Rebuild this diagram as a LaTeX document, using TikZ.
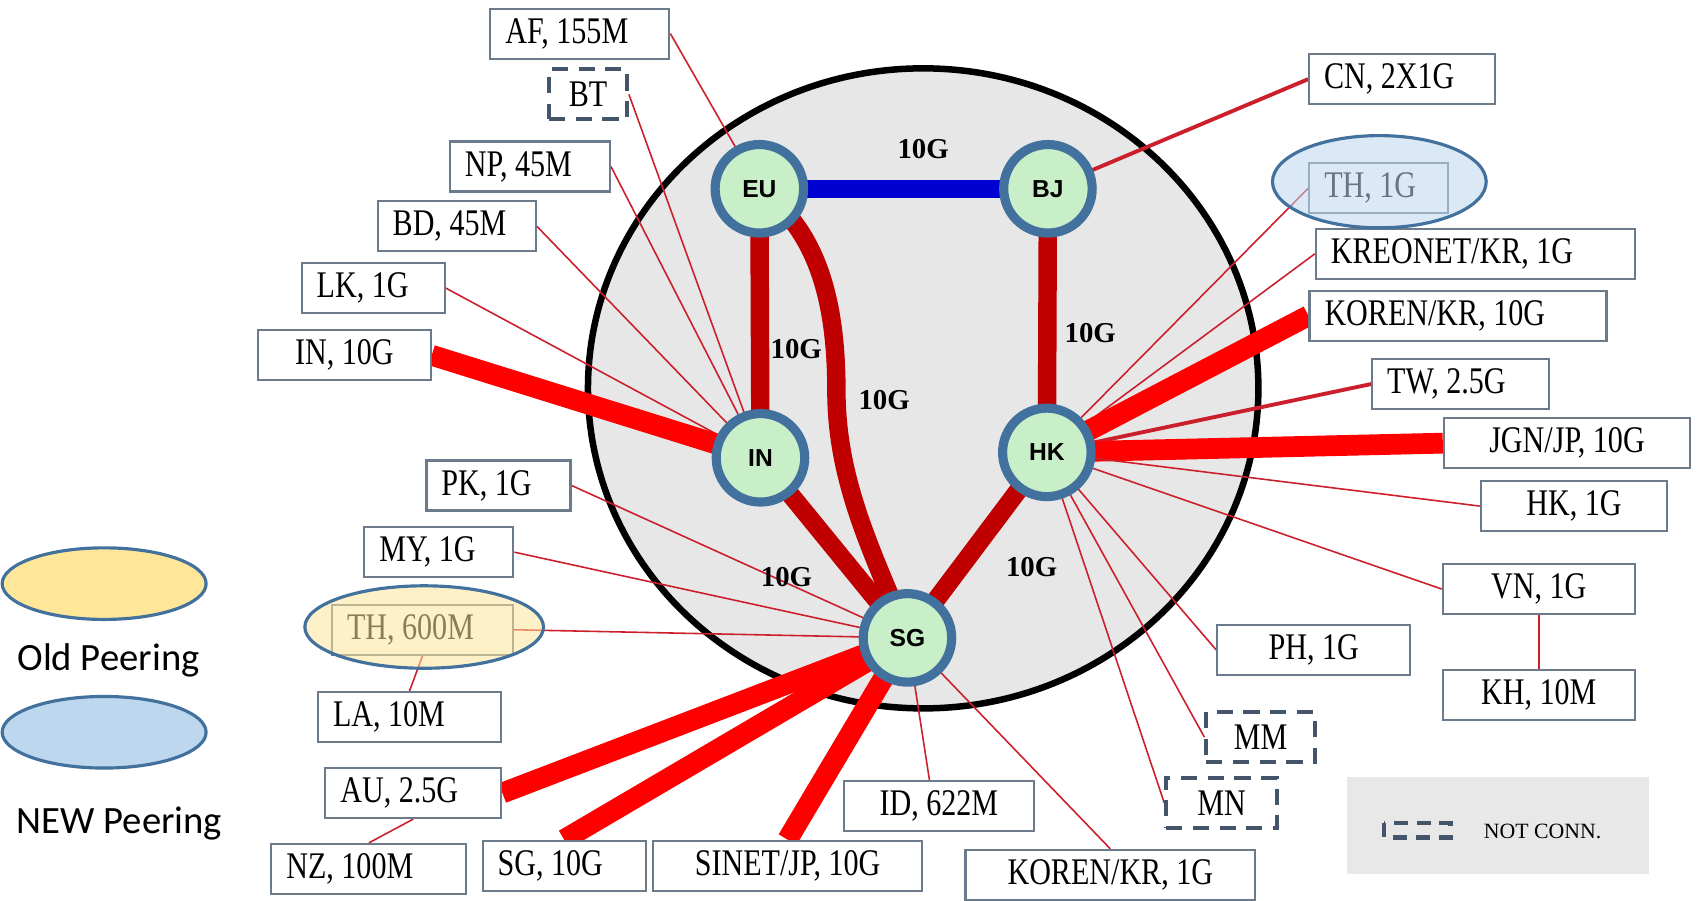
\documentclass[tikz,border=0pt]{standalone}
\usepackage{fontspec}
\setmainfont{Liberation Serif}
\newfontfamily\boxfont{Liberation Serif}[FakeStretch=0.8]
\newfontfamily\hubfont{Liberation Sans}
\newfontfamily\legendfont{Carlito}
\definecolor{bbred}{HTML}{C00000}
\definecolor{bbblue}{HTML}{0000D0}
\definecolor{peerred}{HTML}{FF0000}
\definecolor{thinred}{HTML}{CC1F2C}
\definecolor{hubring}{HTML}{41719C}
\definecolor{hubfill}{HTML}{C9EFC8}
\definecolor{diskgray}{HTML}{E7E7E7}
\definecolor{boxline}{HTML}{6B7B8C}
\definecolor{dashline}{HTML}{44546A}
\definecolor{oldpeer}{HTML}{FFE699}
\definecolor{newpeer}{HTML}{BDD7EE}
\definecolor{legendgray}{HTML}{E8E8E8}
\pgfdeclarelayer{disk}
\pgfdeclarelayer{links}
\pgfdeclarelayer{over}
\pgfsetlayers{disk,links,main,over}

\begin{document}
\begin{tikzpicture}[x=0.01085cm, y=-0.01085cm,
        hub/.style={circle, draw=hubring, line width=2.6pt, fill=hubfill, minimum size=0.885cm, inner sep=0pt, font=\hubfont\bfseries\fontsize{7}{8}\selectfont},
        box/.style={draw=boxline, line width=0.6pt, fill=white, minimum height=0.5cm, inner xsep=0.15cm, inner ysep=0pt, font=\boxfont\fontsize{10.7}{12}\selectfont},
        lbox/.style={box, text width=#1, align=flush left},
        cbox/.style={box, minimum width=#1},
        nobox/.style={box, draw=dashline, line width=1.1pt, dash pattern=on 4.6pt off 3pt, minimum width=#1},
        rate/.style={font=\bfseries\fontsize{8.2}{9}\selectfont},
        bone/.style={line width=5.25pt, draw=bbred},
        fatlink/.style={line width=5.9pt, draw=peerred},
        slimlink/.style={line width=0.45pt, draw=thinred},
        midlink/.style={line width=1.1pt, draw=thinred},
        peering/.style={draw=hubring, line width=0.9pt}
    ]
      \useasboundingbox (0,0) rectangle (1568,830);

      % core ring and legend panel
      \begin{pgfonlayer}{disk}
        \draw[line width=1.85pt, fill=diskgray] (851,358) ellipse [x radius=309, y radius=295];
        \fill[legendgray] (1242,716) rectangle (1520,806);
      \end{pgfonlayer}

      % hubs
      \node[hub] (EU) at (700,174) {EU};
      \node[hub] (BJ) at (966,174) {BJ};
      \node[hub] (IN) at (701,422) {IN};
      \node[hub] (HK) at (965,417) {HK};
      \node[hub] (SG) at (836.5,588) {SG};

      % backbone rates
      \node[rate] (r1) at (851,137) {10G};
      \node[rate] (r2) at (734,322) {10G};
      \node[rate] (r3) at (815,369) {10G};
      \node[rate] (r4) at (1005,307) {10G};
      \node[rate] (r5) at (725,532) {10G};
      \node[rate] (r6) at (951,523) {10G};

      % peers, left side
      \node[lbox=1.49cm] (af) at (534.5,31) {AF, 155M};
      \node[nobox=0.78cm] (bt) at (542,87) {BT};
      \node[lbox=1.30cm] (np) at (488.5,153.5) {NP, 45M};
      \node[lbox=1.28cm] (bd) at (421,208.5) {BD, 45M};
      \node[lbox=1.13cm] (lk) at (344,265.5) {LK, 1G};
      \node[cbox=1.725cm] (in10) at (317.5,327.5) {IN, 10G};
      \node[lbox=1.14cm] (pk) at (459.5,447.5) {PK, 1G};
      \node[lbox=1.19cm] (my) at (404.5,509) {MY, 1G};
      \node[lbox=1.51cm] (th600) at (389.5,580.5) {TH, 600M};
      \node[lbox=1.53cm] (la) at (377.5,661) {LA, 10M};
      \node[lbox=1.46cm] (au) at (381,731) {AU, 2.5G};
      \node[lbox=1.65cm] (nz) at (340,801) {NZ, 100M};

      % peers, bottom
      \node[lbox=1.33cm] (sg10) at (520,798) {SG, 10G};
      \node[cbox=2.691cm] (sinet) at (726,798) {SINET/JP, 10G};
      \node[cbox=1.899cm] (id) at (865.5,743) {ID, 622M};
      \node[cbox=2.897cm] (kr1) at (1023.5,806.5) {KOREN/KR, 1G};

      % peers, right side
      \node[lbox=1.56cm] (cn) at (1292.5,73) {CN, 2X1G};
      \node[lbox=1.09cm] (th1) at (1271,173.5) {TH, 1G};
      \node[lbox=2.89cm] (kreonet) at (1360,234) {KREONET/KR, 1G};
      \node[lbox=2.67cm] (koren10) at (1344,291) {KOREN/KR, 10G};
      \node[lbox=1.47cm] (tw) at (1346.5,354) {TW, 2.5G};
      \node[cbox=2.463cm] (jgn) at (1444.5,408.5) {JGN/JP, 10G};
      \node[cbox=1.866cm] (hk1) at (1451,466.5) {HK, 1G};
      \node[cbox=1.92cm] (vn) at (1418.5,543) {VN, 1G};
      \node[cbox=1.92cm] (kh) at (1418.5,640.5) {KH, 10M};
      \node[cbox=1.931cm] (ph) at (1211,599) {PH, 1G};
      \node[nobox=1.085cm] (mm) at (1162,679.5) {MM};
      \node[nobox=1.107cm] (mn) at (1126,740) {MN};

      % links
      \begin{pgfonlayer}{links}
        \draw[bone, draw=bbblue] (EU.center) -- (BJ.center);
        \draw[bone] (EU.center) -- (IN.center);
        \draw[bone] (BJ.center) -- (HK.center);
        \draw[bone] (IN.center) -- (SG.center);
        \draw[bone] (HK.center) -- (SG.center);
        \draw[bone] (EU.center) .. controls (750,210) and (771,270) .. (771,360)
                                .. controls (771,445) and (805,510) .. (SG.center);

        \draw[slimlink] (af.east) -- (EU.center);
        \draw[slimlink] (bt.east) -- (IN.center);
        \draw[slimlink] (np.east) -- (IN.center);
        \draw[slimlink] (bd.east) -- (IN.center);
        \draw[slimlink] (lk.east) -- (IN.center);
        \draw[fatlink] (in10.east) -- (IN.center);

        \draw[slimlink] (pk.east) -- (SG.center);
        \draw[slimlink] (my.east) -- (SG.center);
        \draw[slimlink] (th600.east) -- (SG.center);
        \draw[fatlink] (au.east) -- (SG.center);
        \draw[fatlink] (sg10.north) -- (SG.center);
        \draw[fatlink] (sinet.north) -- (SG.center);
        \draw[slimlink] (id.110) -- (SG.center);
        \draw[slimlink] (kr1.north) -- (SG.center);

        \draw[midlink] (cn.west) -- (BJ.center);
        \draw[slimlink] (th1.west) -- (HK.center);
        \draw[slimlink] (kreonet.west) -- (HK.center);
        \draw[fatlink] (koren10.west) -- (HK.center);
        \draw[midlink] (tw.west) -- (HK.center);
        \draw[fatlink] (jgn.west) -- (HK.center);
        \draw[slimlink] (hk1.west) -- (HK.center);
        \draw[slimlink] (vn.west) -- (HK.center);
        \draw[slimlink] (ph.west) -- (HK.center);
        \draw[slimlink] (mm.west) -- (HK.center);
        \draw[slimlink] (mn.west) -- (HK.center);

        \draw[slimlink] (la.north) -- (th600.south);
        \draw[slimlink] (nz.north) -- (au.south);
        \draw[slimlink] (vn.south) -- (kh.north);
      \end{pgfonlayer}

      % peering marks
      \begin{pgfonlayer}{over}
        \draw[peering, fill=oldpeer, fill opacity=0.55] (391,578) ellipse [x radius=110, y radius=38];
        \draw[peering, fill=newpeer, fill opacity=0.55] (1271.5,167.5) ellipse [x radius=98.5, y radius=42.5];
      \end{pgfonlayer}

      % legend
      \draw[peering, fill=oldpeer] (96,538) ellipse [x radius=94, y radius=33];
      \node[font=\legendfont\fontsize{11}{13}\selectfont] (oldtxt) at (100,609) {Old Peering};
      \draw[peering, fill=newpeer] (96,675) ellipse [x radius=94, y radius=33];
      \node[font=\legendfont\fontsize{11}{13}\selectfont] (newtxt) at (110,759) {NEW Peering};
      \draw[dashline, line width=1.2pt, dash pattern=on 4pt off 2.5pt] (1276,759) rectangle (1337,772);
      \node[font=\fontsize{6.2}{7}\selectfont] (nctxt) at (1422,766) {NOT CONN.};
    \end{tikzpicture}
\end{document}
